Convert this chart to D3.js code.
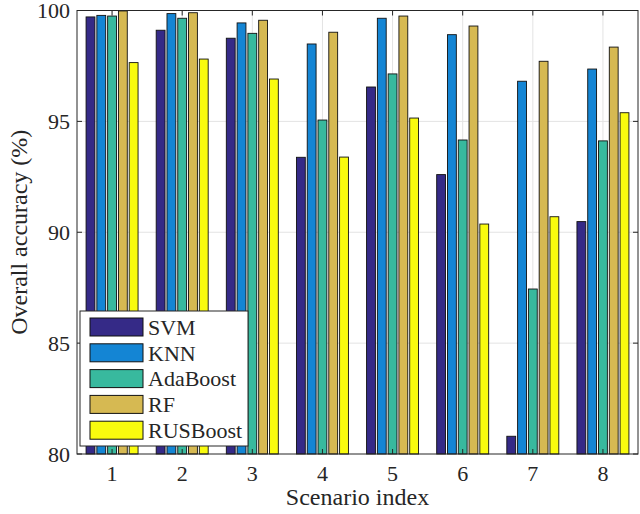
<!DOCTYPE html>
<html><head><meta charset="utf-8">
<script src="https://cdn.jsdelivr.net/npm/d3@7/dist/d3.min.js"></script>
<style>body{margin:0;background:#fff}svg{display:block}</style>
</head><body>
<script>
const scenarios = [1,2,3,4,5,6,7,8];
const methods = ["SVM","KNN","AdaBoost","RF","RUSBoost"];
const colors = ["#352a87","#1485d4","#38b99e","#d6b952","#f9fb0e"];
const svm = [99.71,99.11,98.75,93.38,96.55,92.60,80.80,90.48];
const knn = [99.78,99.86,99.44,98.49,99.65,98.91,96.81,97.36];
const ada = [99.75,99.65,98.97,95.06,97.14,94.16,87.44,94.12];
const rf  = [99.98,99.90,99.56,99.02,99.75,99.30,97.71,98.35];
const rus = [97.65,97.81,96.91,93.39,95.15,90.37,90.70,95.39];
const series = [svm,knn,ada,rf,rus];
const yTicks = [80,85,90,95,100];

const FONT = "'Liberation Serif', 'Times New Roman', 'DejaVu Serif', serif";
const W=640,H=514, L=77, R=638, T=10.5, B=454;
const svg=d3.select("body").append("svg").attr("width",W).attr("height",H)
  .attr("font-family",FONT);
const x=d3.scaleLinear().domain([0.5,8.5]).range([L,R]);
const y=d3.scaleLinear().domain([80,100]).range([B,T]);
const band=x(2)-x(1);
const groupW=0.769*band, stride=groupW/5, bw=stride*0.82;

// grid
svg.append("g").selectAll("line").data(yTicks.slice(1,-1)).join("line")
 .attr("x1",L).attr("x2",R).attr("y1",d=>y(d)).attr("y2",d=>y(d)).attr("stroke","#e3e3e3").attr("stroke-width",1);
svg.append("g").selectAll("line").data(scenarios).join("line")
 .attr("y1",T).attr("y2",B).attr("x1",d=>x(d)).attr("x2",d=>x(d)).attr("stroke","#e3e3e3").attr("stroke-width",1);

// bars
series.forEach((s,k)=>{
  svg.append("g").selectAll("rect").data(s).join("rect")
   .attr("x",(d,i)=>x(scenarios[i])-groupW/2+k*stride+(stride-bw)/2)
   .attr("width",bw)
   .attr("y",d=>y(d)).attr("height",d=>B-y(d))
   .attr("fill",colors[k]).attr("stroke","#111").attr("stroke-width",0.9);
});

// axes
const ax=svg.append("g").attr("stroke","#262626").attr("fill","none");
ax.append("rect").attr("x",L).attr("y",T).attr("width",R-L).attr("height",B-T).attr("stroke-width",1);
const tl=5;
scenarios.forEach(d=>{
  ax.append("line").attr("x1",x(d)).attr("x2",x(d)).attr("y1",B).attr("y2",B-tl);
  ax.append("line").attr("x1",x(d)).attr("x2",x(d)).attr("y1",T).attr("y2",T+tl);
});
yTicks.forEach(d=>{
  ax.append("line").attr("x1",L).attr("x2",L+tl).attr("y1",y(d)).attr("y2",y(d));
  ax.append("line").attr("x1",R).attr("x2",R-tl).attr("y1",y(d)).attr("y2",y(d));
});
const txt = sel => sel.attr("font-family",FONT).attr("fill","#262626");
svg.append("g").selectAll("text").data(scenarios).join("text").call(txt)
 .attr("x",d=>x(d)).attr("y",B+27).attr("text-anchor","middle").attr("font-size",22).text(d=>d);
svg.append("g").selectAll("text").data(yTicks).join("text").call(txt)
 .attr("x",L-7).attr("y",d=>y(d)).attr("dy","0.35em").attr("text-anchor","end").attr("font-size",22).text(d=>d);
svg.append("text").call(txt).attr("x",(L+R)/2).attr("y",505).attr("text-anchor","middle").attr("font-size",24).text("Scenario index");
svg.append("text").call(txt).attr("transform",`translate(27,${(T+B)/2}) rotate(-90)`).attr("text-anchor","middle").attr("font-size",24).text("Overall accuracy (%)");

// legend
const lg=svg.append("g");
lg.append("rect").attr("x",80).attr("y",311).attr("width",168).attr("height",135).attr("fill","#fff").attr("stroke","#262626").attr("stroke-width",1);
methods.forEach((m,k)=>{
  const cy=327+k*25.8;
  lg.append("rect").attr("x",90).attr("y",cy-9).attr("width",53).attr("height",18).attr("fill",colors[k]).attr("stroke","#111").attr("stroke-width",1);
  lg.append("text").call(txt).attr("x",148).attr("y",cy).attr("dy","0.35em").attr("font-size",22).text(m);
});
</script>
</body></html>
